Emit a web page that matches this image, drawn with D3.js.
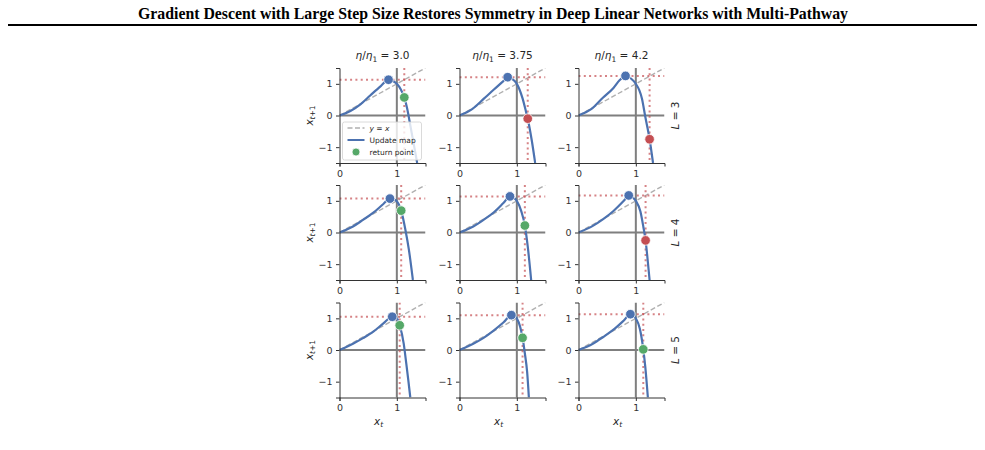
<!DOCTYPE html>
<html>
<head>
<meta charset="utf-8">
<script src="https://d3js.org/d3.v7.min.js"></script>
<style>
  body { margin: 0; background: #fff; }
  svg { display: block; }
  .tick text { font-family: "DejaVu Sans", sans-serif; font-size: 9.5px; fill: #333; }
</style>
</head>
<body>
<svg id="chart" width="985" height="450"></svg>
<script>
// step size ratios (columns) and depths (rows)
var etaLabels = ["3.0", "3.75", "4.2"];
var depths = [3, 4, 5];

// update map x_t -> x_{t+1} (row L, column eta)
var mapX_L3_e30  = [0, 0.19, 0.37, 0.54, 0.72, 0.855, 0.93, 1.0, 1.07, 1.13, 1.18, 1.24, 1.30, 1.355];
var mapY_L3_e30  = [0, 0.14, 0.36, 0.64, 0.93, 1.13, 1.09, 1.0, 0.82, 0.57, 0.22, -0.36, -0.95, -1.5];
var mapX_L3_e375 = [0, 0.22, 0.43, 0.60, 0.75, 0.84, 0.92, 1.0, 1.10, 1.16, 1.19, 1.26, 1.32];
var mapY_L3_e375 = [0, 0.20, 0.54, 0.82, 1.06, 1.21, 1.15, 1.0, 0.54, 0.12, -0.10, -0.78, -1.5];
var mapX_L3_e42  = [0, 0.22, 0.43, 0.61, 0.72, 0.82, 0.92, 1.0, 1.06, 1.106, 1.165, 1.24, 1.30];
var mapY_L3_e42  = [0, 0.20, 0.57, 0.87, 1.12, 1.25, 1.16, 1.0, 0.80, 0.54, -0.04, -0.75, -1.5];

var mapX_L4_e30  = [0, 0.235, 0.41, 0.59, 0.765, 0.88, 0.94, 1.0, 1.076, 1.15, 1.21, 1.28];
var mapY_L4_e30  = [0, 0.19, 0.40, 0.625, 0.90, 1.07, 1.05, 0.99, 0.69, 0.08, -0.54, -1.5];
var mapX_L4_e375 = [0, 0.24, 0.42, 0.60, 0.77, 0.88, 0.94, 1.0, 1.08, 1.14, 1.19, 1.25];
var mapY_L4_e375 = [0, 0.19, 0.40, 0.64, 0.94, 1.14, 1.10, 1.0, 0.66, 0.22, -0.44, -1.5];
var mapX_L4_e42  = [0, 0.25, 0.43, 0.61, 0.79, 0.876, 0.94, 1.0, 1.08, 1.13, 1.17, 1.20, 1.24];
var mapY_L4_e42  = [0, 0.21, 0.42, 0.68, 1.0, 1.17, 1.12, 1.0, 0.66, 0.19, -0.25, -0.75, -1.5];

var mapX_L5_e30  = [0, 0.235, 0.41, 0.59, 0.765, 0.92, 0.96, 1.0, 1.05, 1.12, 1.165, 1.20, 1.235];
var mapY_L5_e30  = [0, 0.20, 0.375, 0.58, 0.84, 1.05, 1.04, 1.0, 0.78, 0.20, -0.43, -0.95, -1.5];
var mapX_L5_e375 = [0, 0.24, 0.42, 0.595, 0.77, 0.905, 0.95, 1.0, 1.06, 1.10, 1.14, 1.18, 1.21];
var mapY_L5_e375 = [0, 0.20, 0.385, 0.615, 0.875, 1.10, 1.08, 1.0, 0.72, 0.385, -0.11, -0.70, -1.5];
var mapX_L5_e42  = [0, 0.25, 0.43, 0.61, 0.79, 0.905, 0.95, 1.0, 1.07, 1.13, 1.165, 1.21];
var mapY_L5_e42  = [0, 0.20, 0.41, 0.64, 0.93, 1.13, 1.10, 1.0, 0.67, 0.02, -0.53, -1.5];

// peak of the map (blue dot) and the point it maps back to (return point)
var peakX = [[0.855, 0.84, 0.82], [0.88, 0.88, 0.876], [0.92, 0.905, 0.905]];
var peakY = [[1.13, 1.21, 1.25], [1.07, 1.14, 1.17], [1.05, 1.10, 1.13]];
var retX  = [[1.13, 1.19, 1.24], [1.076, 1.14, 1.17], [1.05, 1.10, 1.13]];
var retY  = [[0.57, -0.10, -0.75], [0.69, 0.22, -0.25], [0.78, 0.385, 0.02]];

var mapXs = [[mapX_L3_e30, mapX_L3_e375, mapX_L3_e42],
             [mapX_L4_e30, mapX_L4_e375, mapX_L4_e42],
             [mapX_L5_e30, mapX_L5_e375, mapX_L5_e42]];
var mapYs = [[mapY_L3_e30, mapY_L3_e375, mapY_L3_e42],
             [mapY_L4_e30, mapY_L4_e375, mapY_L4_e42],
             [mapY_L5_e30, mapY_L5_e375, mapY_L5_e42]];

var blue = "#4c72b0", green = "#55a868", red = "#c44e52";
var font = "'DejaVu Sans', sans-serif";

var svg = d3.select("#chart");

// page header
svg.append("text")
  .attr("x", 493).attr("y", 19)
  .attr("text-anchor", "middle")
  .attr("textLength", 710).attr("lengthAdjust", "spacingAndGlyphs")
  .style("font-family", "'Liberation Serif', serif")
  .style("font-weight", "bold")
  .style("font-size", "16.5px")
  .text("Gradient Descent with Large Step Size Restores Symmetry in Deep Linear Networks with Multi-Pathway");
svg.append("line")
  .attr("x1", 8).attr("x2", 977).attr("y1", 25).attr("y2", 25)
  .attr("stroke", "#000").attr("stroke-width", 2);

var colLeft = [339.5, 459.5, 578.5];
var rowTop = [68, 185, 302.5];
var W = 86, H = 95;

var defs = svg.append("defs");

depths.forEach(function(L, r){
  etaLabels.forEach(function(eta, c){
    var x = d3.scaleLinear().domain([0, 1.5]).range([0, W]);
    var y = d3.scaleLinear().domain([-1.5, 1.5]).range([H, 0]);
    var g = svg.append("g").attr("transform", "translate(" + colLeft[c] + "," + rowTop[r] + ")");

    var clipId = "clip" + r + c;
    defs.append("clipPath").attr("id", clipId)
      .append("rect").attr("x", 0).attr("y", 0).attr("width", W).attr("height", H);
    var inner = g.append("g").attr("clip-path", "url(#" + clipId + ")");

    // reference lines x=1 and y=0
    inner.append("line")
      .attr("x1", x(1)).attr("x2", x(1)).attr("y1", 0).attr("y2", H)
      .attr("stroke", "#7f7f7f").attr("stroke-width", 2);
    inner.append("line")
      .attr("x1", 0).attr("x2", W).attr("y1", y(0)).attr("y2", y(0))
      .attr("stroke", "#7f7f7f").attr("stroke-width", 2);

    // y = x
    inner.append("line")
      .attr("x1", x(0)).attr("y1", y(0)).attr("x2", x(1.5)).attr("y2", y(1.5))
      .attr("stroke", "#b0b0b0").attr("stroke-width", 1.4)
      .attr("stroke-dasharray", "5,2.5");

    // dotted red guides
    inner.append("line")
      .attr("x1", 0).attr("x2", W).attr("y1", y(peakY[r][c])).attr("y2", y(peakY[r][c]))
      .attr("stroke", red).attr("stroke-opacity", 0.7).attr("stroke-width", 2)
      .attr("stroke-dasharray", "2,3.3");
    inner.append("line")
      .attr("x1", x(retX[r][c])).attr("x2", x(retX[r][c])).attr("y1", 0).attr("y2", H)
      .attr("stroke", red).attr("stroke-opacity", 0.7).attr("stroke-width", 2)
      .attr("stroke-dasharray", "2,3.3");

    // update map
    var pts = mapXs[r][c].map(function(v, i){ return [v, mapYs[r][c][i]]; });
    inner.append("path")
      .datum(pts)
      .attr("fill", "none")
      .attr("stroke", blue)
      .attr("stroke-width", 2.2)
      .attr("d", d3.line()
        .x(function(d){ return x(d[0]); })
        .y(function(d){ return y(d[1]); })
        .curve(d3.curveMonotoneX));

    // markers
    g.append("circle")
      .attr("cx", x(peakX[r][c])).attr("cy", y(peakY[r][c])).attr("r", 4.8)
      .attr("fill", blue).attr("stroke", "#fff").attr("stroke-width", 0.8);
    g.append("circle")
      .attr("cx", x(retX[r][c])).attr("cy", y(retY[r][c])).attr("r", 4.8)
      .attr("fill", retY[r][c] > 0 ? green : red).attr("stroke", "#fff").attr("stroke-width", 0.8);

    // axes (left + bottom spines only)
    var ax = g.append("g").attr("transform", "translate(0," + H + ")")
      .call(d3.axisBottom(x).tickValues([0, 1]).tickSize(3.5).tickPadding(3.5).tickFormat(d3.format("d")));
    var ay = g.append("g")
      .call(d3.axisLeft(y).tickValues([-1, 0, 1]).tickSize(3.5).tickPadding(3.5)
        .tickFormat(function(d){ return d < 0 ? "\u2212" + Math.abs(d) : d; }));
    [ax, ay].forEach(function(a){
      a.select(".domain").attr("stroke", "#333").attr("stroke-width", 1);
      a.selectAll(".tick line").attr("stroke", "#333");
    });

    // column titles
    if (r === 0) {
      var t = g.append("text")
        .attr("x", W / 2).attr("y", -9)
        .attr("text-anchor", "middle")
        .style("font-family", font).style("font-size", "10.5px").attr("fill", "#262626");
      t.append("tspan").style("font-style", "italic").text("\u03b7");
      t.append("tspan").text("/");
      t.append("tspan").style("font-style", "italic").text("\u03b7");
      t.append("tspan").attr("dy", 2.5).style("font-size", "7.5px").text("1");
      t.append("tspan").attr("dy", -2.5).text(" = " + eta);
    }

    // x label
    if (r === depths.length - 1) {
      var xl = g.append("text")
        .attr("x", W / 2 - 4).attr("y", H + 27)
        .attr("text-anchor", "middle")
        .style("font-family", font).style("font-size", "10.5px").attr("fill", "#262626");
      xl.append("tspan").style("font-style", "italic").text("x");
      xl.append("tspan").attr("dy", 2.5).style("font-size", "7.5px").style("font-style", "italic").text("t");
    }

    // y label
    if (c === 0) {
      var yl = g.append("text")
        .attr("transform", "translate(-27," + (H / 2) + ") rotate(-90)")
        .attr("text-anchor", "middle")
        .style("font-family", font).style("font-size", "10.5px").attr("fill", "#262626");
      yl.append("tspan").style("font-style", "italic").text("x");
      yl.append("tspan").attr("dy", 2.5).style("font-size", "7.5px").style("font-style", "italic").text("t");
      yl.append("tspan").style("font-size", "7.5px").text("+1");
    }

    // row labels
    if (c === etaLabels.length - 1) {
      var rl = g.append("text")
        .attr("transform", "translate(" + (W + 14) + "," + (H / 2) + ") rotate(-90)")
        .attr("text-anchor", "middle")
        .style("font-family", font).style("font-size", "10.5px").attr("fill", "#262626");
      rl.append("tspan").style("font-style", "italic").text("L");
      rl.append("tspan").text(" = " + L);
    }

    // legend in the first panel
    if (r === 0 && c === 0) {
      var lg = g.append("g").attr("transform", "translate(3,54)");
      lg.append("rect").attr("width", 79).attr("height", 38).attr("rx", 2)
        .attr("fill", "#fff").attr("fill-opacity", 0.8).attr("stroke", "#d0d0d0").attr("stroke-width", 0.8);
      lg.append("line").attr("x1", 5).attr("x2", 22).attr("y1", 6).attr("y2", 6)
        .attr("stroke", "#b0b0b0").attr("stroke-width", 1.4).attr("stroke-dasharray", "5,2.5");
      lg.append("line").attr("x1", 5).attr("x2", 22).attr("y1", 18).attr("y2", 18)
        .attr("stroke", blue).attr("stroke-width", 2);
      lg.append("circle").attr("cx", 13.5).attr("cy", 30).attr("r", 4)
        .attr("fill", green).attr("stroke", "#fff").attr("stroke-width", 0.8);
      var lt = function(yy){
        return lg.append("text").attr("x", 27).attr("y", yy)
          .style("font-family", font).style("font-size", "7.5px").attr("fill", "#262626");
      };
      var l1 = lt(8.5);
      l1.append("tspan").style("font-style", "italic").text("y");
      l1.append("tspan").text(" = ");
      l1.append("tspan").style("font-style", "italic").text("x");
      lt(20.5).text("Update map");
      lt(32.5).text("return point");
    }
  });
});
</script>
</body>
</html>
